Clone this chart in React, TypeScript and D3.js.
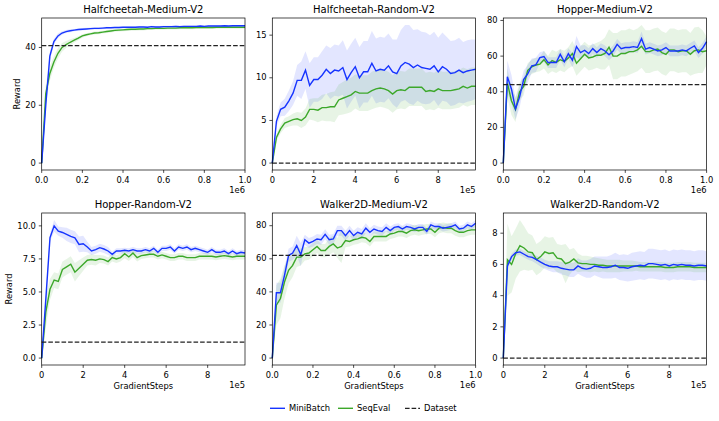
import React from "react";
import * as d3 from "d3";

// ---------- data ----------
const STEP = 20000; // gradient steps between evaluations

const titles = [
  "Halfcheetah-Medium-V2",
  "Halfcheetah-Random-V2",
  "Hopper-Medium-V2",
  "Hopper-Random-V2",
  "Walker2D-Medium-V2",
  "Walker2D-Random-V2",
];

const seriesNames = ["MiniBatch", "SeqEval", "Dataset"];

// Halfcheetah-Medium (x 0..1e6)
const hcmMini = [0, 20, 37, 42, 44, 45, 45.5, 45.8, 46, 46.2, 46.3, 46.4, 46.5, 46.6, 46.6, 46.7, 46.8, 46.8, 46.9, 46.9, 47, 47, 47, 47, 47.1, 47.1, 47, 47.2, 47.1, 47.1, 47.2, 47.2, 47.2, 47.3, 47.2, 47.3, 47.3, 47.3, 47.3, 47.4, 47.3, 47.4, 47.4, 47.4, 47.4, 47.5, 47.4, 47.5, 47.5, 47.5, 47.5];
const hcmMiniSd = [0, 2, 1.5, 1, 0.8, 0.6, 0.5, 0.5, 0.4, 0.4, 0.4, 0.4, 0.4, 0.4, 0.4, 0.4, 0.4, 0.3, 0.3, 0.3, 0.3, 0.3, 0.3, 0.3, 0.3, 0.3, 0.3, 0.3, 0.3, 0.3, 0.3, 0.3, 0.3, 0.3, 0.3, 0.3, 0.3, 0.3, 0.3, 0.3, 0.3, 0.3, 0.3, 0.3, 0.3, 0.3, 0.3, 0.3, 0.3, 0.3, 0.3];
const hcmSeq = [0, 24, 31, 35, 38, 40, 41, 41.8, 42.5, 43.2, 44, 44.4, 44.7, 45, 45.1, 45.3, 45.5, 45.7, 45.9, 46, 46.1, 46.2, 46.3, 46.3, 46.4, 46.4, 46.5, 46.5, 46.6, 46.6, 46.6, 46.7, 46.7, 46.7, 46.8, 46.8, 46.8, 46.8, 46.9, 46.9, 46.9, 46.9, 46.9, 47, 47, 47, 47, 47, 47, 47, 47];
const hcmSeqSd = [0, 3, 2.5, 2, 1.8, 1.5, 1.2, 1, 0.8, 0.7, 0.6, 0.5, 0.5, 0.5, 0.5, 0.5, 0.5, 0.5, 0.5, 0.5, 0.5, 0.5, 0.5, 0.5, 0.5, 0.5, 0.5, 0.5, 0.5, 0.5, 0.5, 0.5, 0.5, 0.5, 0.5, 0.5, 0.5, 0.5, 0.5, 0.5, 0.5, 0.5, 0.5, 0.5, 0.5, 0.5, 0.5, 0.5, 0.5, 0.5, 0.5];

// Halfcheetah-Random (x 0..9.8e5)
const hcrMini = [0, 4.9, 6.3, 6.55, 7.3, 8.2, 9.7, 9.7, 10.9, 9.1, 9.8, 9.8, 10.3, 11, 10.5, 10.9, 10.8, 11.2, 9.8, 10.6, 11.3, 10, 10.7, 10.7, 11.7, 10.8, 11, 10.9, 11.4, 10.7, 10.5, 11.4, 11.8, 11.6, 11.2, 11.5, 11.2, 11.1, 11, 11.4, 10.7, 11.3, 11, 10.5, 10.6, 10.9, 10.6, 10.8, 10.9, 11];
const hcrMiniSd = [0, 0.6, 0.8, 1.0, 1.2, 1.4, 1.8, 2.2, 2.2, 2.6, 2.6, 2.6, 2.8, 2.8, 3.0, 3.0, 3.0, 3.2, 3.4, 3.4, 3.4, 3.6, 3.6, 3.6, 3.8, 3.8, 3.8, 3.8, 3.8, 3.8, 4.0, 4.2, 4.4, 4.6, 4.4, 4.2, 4.2, 4.2, 4.0, 4.0, 4.0, 4.0, 3.8, 3.8, 3.8, 3.8, 3.6, 3.6, 3.6, 3.5];
const hcrSeq = [0, 3, 4, 4.7, 4.9, 5.1, 5.2, 5.0, 5.4, 6.3, 6.3, 6.2, 6.5, 6.5, 6.6, 6.6, 7.4, 7.6, 7.8, 8.0, 8.4, 8.2, 8.2, 8.2, 8.5, 8.7, 8.8, 8.7, 8.5, 8.1, 8.5, 8.6, 8.5, 8.9, 8.9, 8.9, 8.9, 8.4, 8.5, 8.4, 8.7, 8.5, 8.5, 8.5, 8.6, 8.7, 9.0, 8.8, 9.0, 9.0];
const hcrSeqSd = [0, 0.4, 0.5, 0.6, 0.6, 0.7, 0.8, 0.9, 1.0, 1.2, 1.3, 1.4, 1.5, 1.6, 1.7, 1.8, 1.8, 1.9, 2.0, 2.0, 2.0, 2.1, 2.1, 2.1, 2.2, 2.2, 2.2, 2.2, 2.2, 2.2, 2.2, 2.2, 2.2, 2.2, 2.2, 2.2, 2.2, 2.2, 2.2, 2.2, 2.2, 2.2, 2.2, 2.2, 2.2, 2.2, 2.2, 2.2, 2.2, 2.2];

// Hopper-Medium (x 0..1e6)
const hmMini = [0, 48.4, 41.6, 30.4, 37, 46.8, 50, 54.6, 55.1, 59.2, 59.8, 56.4, 56.4, 56.4, 61, 56.8, 61.4, 57.7, 65.3, 62, 63.3, 61.4, 64.2, 62, 64.2, 62.9, 60.7, 62.9, 66.6, 64.2, 64.8, 64.8, 65.3, 64.8, 69.8, 63.9, 64.8, 63.9, 62.9, 63.5, 64.8, 62.9, 62.9, 62.9, 63.5, 62.9, 64.4, 65.7, 62, 64.4, 68.1];
const hmMiniSd = [0, 9, 8, 6, 6, 5, 5, 4, 4, 3, 3, 3, 3, 3, 3, 3, 3, 4, 6, 4, 3, 3, 3, 3, 3, 3, 3, 3, 3, 3, 3, 3, 3, 3, 4, 3, 3, 3, 3, 3, 3, 3, 3, 3, 3, 3, 3, 3, 3, 3, 3];
const hmSeq = [0, 45, 35, 30, 40, 43, 52, 54, 55, 55.5, 58, 55, 57.5, 56.5, 58, 57, 59, 61.5, 56, 58.5, 61, 59, 59.5, 60.5, 60.5, 61.5, 65, 60, 60, 61.5, 61.5, 62.5, 62.5, 63.5, 65.5, 62.5, 62.5, 63.5, 64, 62, 61, 63.5, 63.5, 62.5, 63, 63, 61, 63, 63.5, 62.5, 63];
const hmSeqSd = [0, 8, 8, 7, 5, 5, 4, 4, 4, 4, 5, 5, 6, 6, 6, 6, 6, 7, 7, 7, 7, 7, 7, 7, 8, 9, 10, 13, 13, 13, 13, 13, 12, 12, 12, 12, 12, 12, 12, 12, 12, 12, 12, 12, 12, 12, 12, 13, 13, 12, 8];

// Hopper-Random (x 0..9.8e5)
const hrMini = [0, 4.5, 9.1, 10.0, 9.6, 9.5, 9.35, 9.2, 9.1, 8.6, 8.65, 8.4, 8.1, 8.2, 8.35, 8.25, 8.1, 7.85, 8.1, 8.1, 8.15, 8.1, 8.2, 8.1, 8.1, 8.2, 8.1, 8.3, 8.0, 8.3, 8.3, 8.4, 8.1, 8.4, 8.3, 8.4, 8.2, 8.3, 8.2, 8.1, 8.0, 8.2, 8.0, 8.0, 8.1, 7.9, 8.1, 7.9, 8.0, 7.95];
const hrMiniSd = [0, 0.3, 0.3, 0.45, 0.35, 0.4, 0.5, 0.5, 0.5, 0.6, 0.6, 0.4, 0.3, 0.3, 0.3, 0.3, 0.3, 0.2, 0.2, 0.2, 0.2, 0.2, 0.2, 0.2, 0.2, 0.2, 0.2, 0.2, 0.2, 0.2, 0.2, 0.2, 0.2, 0.2, 0.2, 0.2, 0.2, 0.2, 0.2, 0.2, 0.2, 0.2, 0.2, 0.2, 0.2, 0.2, 0.2, 0.2, 0.2, 0.2];
const hrSeq = [0, 3.5, 5.2, 5.9, 5.8, 6.7, 6.9, 7.1, 6.5, 6.8, 7.1, 7.4, 7.45, 7.4, 7.5, 7.45, 7.3, 7.6, 7.5, 7.6, 7.9, 7.65, 7.95, 7.6, 7.75, 7.8, 7.85, 7.85, 7.7, 7.8, 7.7, 7.6, 7.6, 7.7, 7.7, 7.6, 7.6, 7.6, 7.7, 7.7, 7.7, 7.7, 7.65, 7.7, 7.75, 7.7, 7.65, 7.7, 7.7, 7.7];
const hrSeqSd = [0, 1.2, 0.8, 0.6, 0.6, 0.6, 0.6, 0.6, 0.7, 0.6, 0.5, 0.4, 0.4, 0.4, 0.3, 0.3, 0.3, 0.3, 0.3, 0.3, 0.35, 0.3, 0.3, 0.3, 0.25, 0.25, 0.25, 0.25, 0.25, 0.25, 0.25, 0.25, 0.25, 0.25, 0.25, 0.25, 0.25, 0.25, 0.25, 0.25, 0.25, 0.25, 0.25, 0.25, 0.25, 0.25, 0.25, 0.25, 0.25, 0.25];

// Walker2D-Medium (x 0..1e6)
const wmMini = [0, 39.5, 39.5, 50, 62, 63.5, 68, 62.5, 71.5, 69.5, 70.5, 72, 71.5, 74.8, 71.5, 72, 77, 77, 74, 77, 74, 76, 75, 78.5, 76, 78, 77, 76.5, 79, 77, 79, 79.5, 78, 79.5, 79, 78, 79, 79, 76.5, 80.5, 79.5, 79.5, 78.5, 79, 79.5, 80.5, 78, 78.5, 80.5, 79.5, 81.5];
const wmMiniSd = [0, 6, 6, 5, 4, 4, 6, 7, 3, 3, 3, 3, 3, 3, 3, 3, 3, 3, 3, 3, 3, 3, 3, 3, 2.5, 2.5, 2.5, 2.5, 2.5, 2.5, 2, 2, 2, 2, 2, 2, 2, 2, 2, 2, 2, 2, 2, 2, 2, 2, 2, 2, 2, 2, 2];
const wmSeq = [0, 32, 36, 46, 53, 56, 61, 61, 63, 63.5, 65.5, 67.5, 65, 65, 67.5, 69, 66.5, 67.5, 71, 70.5, 71.5, 72, 73, 72.5, 70.5, 73.5, 73.5, 73.5, 73.5, 75, 75.5, 76.5, 76.5, 75.5, 77, 77.5, 77, 77.5, 78, 78, 76, 78.5, 79, 78.5, 78.5, 77, 76, 76, 77, 77.5, 77.5];
const wmSeqSd = [0, 12, 12, 10, 8, 7, 6, 5, 4, 4, 4, 4, 4, 4, 5, 5, 6, 10, 4, 3, 3, 3, 3, 3, 3, 3, 3, 3, 3, 3, 3, 3, 3, 3, 3, 3, 3, 3, 3, 3, 3, 3, 3, 3, 3, 3, 3, 3, 3, 3, 3];

// Walker2D-Random (x 0..9.8e5)
const wrMini = [0, 5.9, 6.5, 6.75, 6.8, 6.65, 6.5, 6.45, 6.3, 6.15, 6.0, 5.9, 5.85, 5.85, 5.75, 5.7, 5.65, 5.65, 5.9, 5.75, 5.7, 5.75, 5.9, 5.85, 5.8, 5.8, 5.85, 5.95, 5.8, 5.8, 5.75, 5.85, 5.9, 5.95, 5.9, 6.05, 6.05, 6.0, 5.95, 6.0, 5.9, 6.0, 5.95, 6.0, 5.95, 5.95, 5.9, 5.95, 5.95, 5.9];
const wrMiniSd = [0, 0.2, 0.2, 0.2, 0.2, 0.2, 0.2, 0.25, 0.25, 0.3, 0.3, 0.3, 0.35, 0.35, 0.4, 0.4, 0.45, 0.45, 0.5, 0.5, 0.55, 0.6, 0.6, 0.65, 0.7, 0.7, 0.75, 0.8, 0.8, 0.85, 0.85, 0.9, 0.9, 0.9, 0.9, 0.95, 0.95, 0.95, 0.95, 0.95, 0.95, 0.95, 0.95, 0.95, 0.95, 0.95, 0.95, 0.95, 0.95, 0.95];
const wrSeq = [0, 6.3, 6.0, 6.7, 7.2, 7.05, 6.8, 6.75, 6.3, 6.5, 6.8, 6.7, 6.75, 6.4, 6.35, 6.05, 6.15, 6.35, 6.1, 6.05, 6.05, 6.0, 6.0, 5.95, 5.95, 5.9, 5.9, 5.9, 5.9, 5.9, 5.9, 5.9, 5.9, 5.85, 5.85, 5.85, 5.85, 5.85, 5.85, 5.8, 5.8, 5.8, 5.85, 5.85, 5.85, 5.85, 5.8, 5.8, 5.8, 5.8];
const wrSeqSd = [0, 2.3, 1.8, 1.6, 1.65, 1.4, 1.2, 1.1, 1.0, 1.0, 1.0, 1.0, 1.0, 0.9, 0.9, 1.25, 0.8, 0.7, 0.6, 0.5, 0.5, 0.5, 0.45, 0.45, 0.4, 0.4, 0.4, 0.4, 0.4, 0.35, 0.35, 0.35, 0.3, 0.3, 0.3, 0.3, 0.3, 0.3, 0.3, 0.3, 0.3, 0.3, 0.3, 0.3, 0.3, 0.3, 0.3, 0.3, 0.3, 0.3];

// dataset reference levels
const datasetLevels = [40.6, 0, 44, 1.2, 62, 0];

// tick values
const yTicksList = [
  [0, 20, 40],
  [0, 5, 10, 15],
  [0, 20, 40, 60, 80],
  [0, 2.5, 5, 7.5, 10],
  [0, 20, 40, 60, 80],
  [0, 2, 4, 6, 8],
];
const yTickDecimals = [0, 0, 0, 1, 0, 0];
const xTicks1e6 = [0, 200000, 400000, 600000, 800000, 1000000];
const xTicks1e5 = [0, 200000, 400000, 600000, 800000];
const xScaleExp = [6, 5, 6, 5, 6, 5];

const minis = [hcmMini, hcrMini, hmMini, hrMini, wmMini, wrMini];
const miniSds = [hcmMiniSd, hcrMiniSd, hmMiniSd, hrMiniSd, wmMiniSd, wrMiniSd];
const seqs = [hcmSeq, hcrSeq, hmSeq, hrSeq, wmSeq, wrSeq];
const seqSds = [hcmSeqSd, hcrSeqSd, hmSeqSd, hrSeqSd, wmSeqSd, wrSeqSd];

// ---------- style / layout ----------
const W = 719;
const H = 421;
const BLUE = "#1634ff";
const GREEN = "#3ca82a";
const FONT = "DejaVu Sans, sans-serif";
const colLeft = [41.7, 272.3, 503.3];
const rowTop = [18, 213];
const PW = 203.3;
const PH = 152;
const TICK = 2.9;

function Panel({ idx }: { idx: number }) {
  const col = idx % 3;
  const row = Math.floor(idx / 3);
  const left = colLeft[col];
  const top = rowTop[row];
  const mini = minis[idx];
  const miniSd = miniSds[idx];
  const seq = seqs[idx];
  const seqSd = seqSds[idx];
  const ds = datasetLevels[idx];
  const n = mini.length;
  const xs = d3.range(n).map((i) => i * STEP);

  const lows = [
    ...mini.map((v, i) => v - miniSd[i]),
    ...seq.map((v, i) => v - seqSd[i]),
    ds,
  ];
  const highs = [
    ...mini.map((v, i) => v + miniSd[i]),
    ...seq.map((v, i) => v + seqSd[i]),
    ds,
  ];
  const lo = d3.min(lows)!;
  const hi = d3.max(highs)!;
  const pad = (hi - lo) * 0.05;

  const x = d3.scaleLinear().domain(d3.extent(xs) as [number, number]).range([left, left + PW]);
  const y = d3.scaleLinear().domain([lo - pad, hi + pad]).range([top + PH, top]);

  const area = (m: number[], s: number[]) =>
    d3
      .area<number>()
      .x((_, i) => x(xs[i]))
      .y0((v, i) => y(v - s[i]))
      .y1((v, i) => y(v + s[i]))(m) || "";
  const line = (m: number[]) =>
    d3
      .line<number>()
      .x((_, i) => x(xs[i]))
      .y((v) => y(v))(m) || "";

  const exp = xScaleExp[idx];
  const xTicks = exp === 6 ? xTicks1e6 : xTicks1e5;
  const xLabel = (v: number) => (exp === 6 ? (v / 1e6).toFixed(1) : String(v / 1e5));
  const yTicks = yTicksList[idx];
  const dec = yTickDecimals[idx];

  return (
    <g>
      <path d={area(mini, miniSd)} fill={BLUE} fillOpacity={0.12} stroke="none" />
      <path d={area(seq, seqSd)} fill={GREEN} fillOpacity={0.12} stroke="none" />
      <path d={line(seq)} fill="none" stroke={GREEN} strokeWidth={1.4} />
      <path d={line(mini)} fill="none" stroke={BLUE} strokeWidth={1.4} />
      <line
        x1={left}
        x2={left + PW}
        y1={y(ds)}
        y2={y(ds)}
        stroke="#222"
        strokeWidth={1.25}
        strokeDasharray="4.6 2"
      />
      <rect x={left} y={top} width={PW} height={PH} fill="none" stroke="#000" strokeWidth={0.7} />
      {xTicks.map((t) => (
        <g key={"x" + t}>
          <line x1={x(t)} x2={x(t)} y1={top + PH} y2={top + PH + TICK} stroke="#000" strokeWidth={0.7} />
          <text
            x={x(t)}
            y={top + PH + 12.7}
            textAnchor="middle"
            fontSize={8.33}
            fontFamily={FONT}
            fill="#000"
          >
            {xLabel(t)}
          </text>
        </g>
      ))}
      {yTicks.map((t) => (
        <g key={"y" + t}>
          <line x1={left - TICK} x2={left} y1={y(t)} y2={y(t)} stroke="#000" strokeWidth={0.7} />
          <text
            x={left - TICK - 2.9}
            y={y(t)}
            dy="0.32em"
            textAnchor="end"
            fontSize={8.33}
            fontFamily={FONT}
            fill="#000"
          >
            {t.toFixed(dec)}
          </text>
        </g>
      ))}
      <text
        x={left + PW}
        y={top + PH + 23.3}
        textAnchor="end"
        fontSize={8.33}
        fontFamily={FONT}
        fill="#000"
      >
        {"1e" + exp}
      </text>
      <text
        x={left + PW / 2}
        y={top - 5}
        textAnchor="middle"
        fontSize={10}
        fontFamily={FONT}
        fill="#000"
      >
        {titles[idx]}
      </text>
      {row === 1 && (
        <text
          x={left + PW / 2}
          y={top + PH + 24.2}
          textAnchor="middle"
          fontSize={8.33}
          fontFamily={FONT}
          fill="#000"
        >
          GradientSteps
        </text>
      )}
      {col === 0 && (
        <text
          transform={`translate(${row === 0 ? 20.2 : 12.2},${top + PH / 2}) rotate(-90)`}
          textAnchor="middle"
          fontSize={8.33}
          fontFamily={FONT}
          fill="#000"
        >
          Reward
        </text>
      )}
    </g>
  );
}

function Legend() {
  const items = [
    { x: 270, color: BLUE, dash: undefined as string | undefined },
    { x: 338, color: GREEN, dash: undefined as string | undefined },
    { x: 405, color: "#222", dash: "4.6 2" },
  ];
  const ly = 408.3;
  return (
    <g>
      {items.map((it, i) => (
        <g key={i}>
          <line
            x1={it.x}
            x2={it.x + 15}
            y1={ly}
            y2={ly}
            stroke={it.color}
            strokeWidth={i === 2 ? 1.25 : 1.4}
            strokeDasharray={it.dash}
          />
          <text x={it.x + 19} y={ly} dy="0.32em" fontSize={8.33} fontFamily={FONT} fill="#000">
            {seriesNames[i]}
          </text>
        </g>
      ))}
    </g>
  );
}

export default function App() {
  return (
    <svg
      width={W}
      height={H}
      viewBox={`0 0 ${W} ${H}`}
      style={{ position: "absolute", left: 0, top: 0, background: "#fff" }}
    >
      <rect x={0} y={0} width={W} height={H} fill="#fff" />
      {d3.range(6).map((i) => (
        <Panel key={i} idx={i} />
      ))}
      <Legend />
    </svg>
  );
}
